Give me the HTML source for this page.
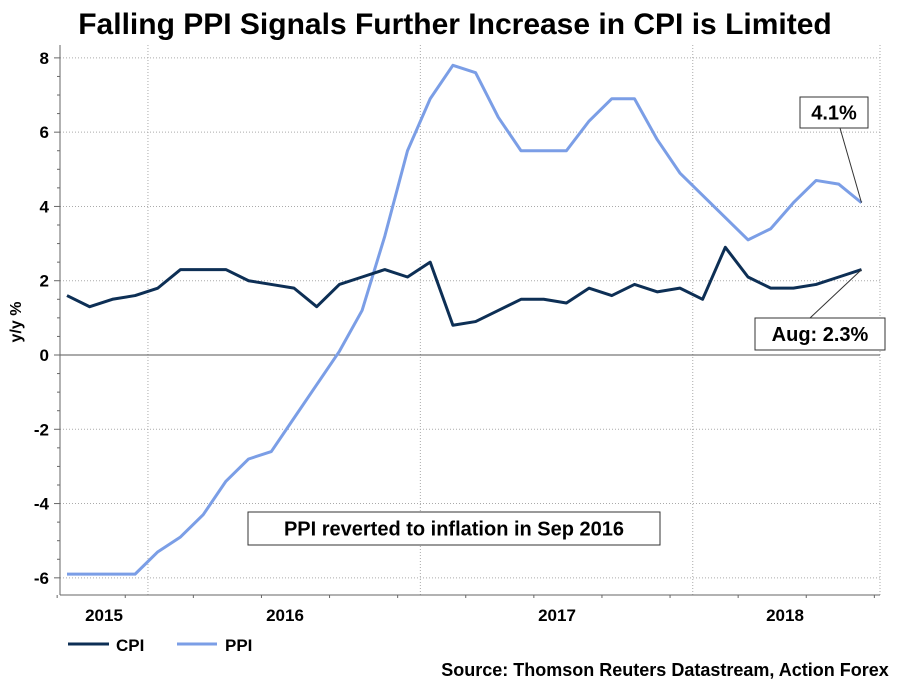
<!DOCTYPE html>
<html><head><meta charset="utf-8">
<style>
html,body{margin:0;padding:0;background:#fff;}
body{width:909px;height:682px;overflow:hidden;font-family:"Liberation Sans",Arial,sans-serif;}
svg text{font-family:"Liberation Sans",Arial,sans-serif;font-weight:bold;}
</style></head>
<body>
<svg id="chart" width="909" height="682" viewBox="0 0 909 682">
<text x="455" y="34" text-anchor="middle" font-size="30" fill="#000">Falling PPI Signals Further Increase in CPI is Limited</text>
<g id="grid"></g>
<g id="axes"></g>
<g id="series"></g>
<g id="ann"></g>
<text x="665" y="676" text-anchor="middle" font-size="18" fill="#000">Source: Thomson Reuters Datastream, Action Forex</text>
</svg>
<script>
const months = 36; // Sep 2015 .. Aug 2018
const cpi = [1.6,1.3,1.5,1.6,1.8,2.3,2.3,2.3,2.0,1.9,1.8,1.3,1.9,2.1,2.3,2.1,2.5,0.8,0.9,1.2,1.5,1.5,1.4,1.8,1.6,1.9,1.7,1.8,1.5,2.9,2.1,1.8,1.8,1.9,2.1,2.3];
const ppi = [-5.9,-5.9,-5.9,-5.9,-5.3,-4.9,-4.3,-3.4,-2.8,-2.6,-1.7,-0.8,0.1,1.2,3.2,5.5,6.9,7.8,7.6,6.4,5.5,5.5,5.5,6.3,6.9,6.9,5.8,4.9,4.3,3.7,3.1,3.4,4.1,4.7,4.6,4.1];
const yTicks = [8,6,4,2,0,-2,-4,-6];
const years = ["2015","2016","2017","2018"];
const NS="http://www.w3.org/2000/svg";
const L=60,R=880,T=45,B=595;
const x0=67,dx=22.7;
function X(i){return x0+i*dx;}
function Y(v){return 355-v*37.14;}
function mk(tag,attrs,parent){const e=document.createElementNS(NS,tag);for(const k in attrs)e.setAttribute(k,attrs[k]);parent.appendChild(e);return e;}
const grid=document.getElementById('grid'),axes=document.getElementById('axes'),series=document.getElementById('series'),ann=document.getElementById('ann');
const yb=[4,16,28];
yb.forEach(i=>{const xv=X(i-0.5)+1.5;
 const g=mk('line',{x1:xv,x2:xv,y1:T,y2:B,stroke:'#aaa','stroke-dasharray':'1,2'},grid);
 
 
});
mk('line',{x1:R,x2:R,y1:T,y2:B,stroke:'#aaa','stroke-dasharray':'1,2'},grid);
yTicks.forEach(v=>{
 if(v!==0){const g=mk('line',{x1:L,x2:R,y1:Y(v),y2:Y(v),stroke:'#aaa','stroke-dasharray':'1,2'},grid);
 
 }
 const t=mk('text',{x:L-11,y:Y(v)+6,'text-anchor':'end','font-size':'17',fill:'#000'},axes);
 t.textContent=v;
 
 
});
for(let v=-6;v<=8;v+=0.5){mk('line',{x1:L-(v%2===0?6:3),x2:L,y1:Y(v),y2:Y(v),stroke:'#666'},axes);}
const z=mk('line',{x1:L,x2:R,y1:Y(0),y2:Y(0),stroke:'#555','stroke-width':1},axes);


mk('line',{x1:L,x2:L,y1:T,y2:B,stroke:'#666'},axes);
mk('line',{x1:L,x2:R,y1:B,y2:B,stroke:'#666'},axes);
for(let i=-0.5;i<months;i+=3){const yr=((i+0.5+8)%12)===0;mk('line',{x1:X(i)+1.5,x2:X(i)+1.5,y1:B,y2:B+(yr?6:3),stroke:'#666'},axes);}
const yc=[104,285,557,785];
years.forEach((y,k)=>{const t=mk('text',{x:yc[k],y:621,'text-anchor':'middle','font-size':'17',fill:'#000'},axes);
 t.textContent=y;
 
 });
const yl=mk('text',{x:0,y:0,'text-anchor':'middle','font-size':'16',fill:'#000',transform:'translate(21,322) rotate(-90)'},axes);
yl.textContent='y/y %';


function line(data,color,name){const p=mk('polyline',{points:data.map((v,i)=>X(i)+','+Y(v)).join(' '),fill:'none',stroke:color,'stroke-width':3,'stroke-linejoin':'round'},series);
 
 }
line(ppi,'#7b9ee6','ppi-line');
line(cpi,'#0d2f55','cpi-line');
mk('line',{x1:68,x2:109,y1:644,y2:644,stroke:'#0d2f55','stroke-width':3},ann);
let t=mk('text',{x:116,y:651,'font-size':'17',fill:'#000'},ann);t.textContent='CPI';


mk('line',{x1:177,x2:217,y1:644,y2:644,stroke:'#7b9ee6','stroke-width':3},ann);
t=mk('text',{x:225,y:651,'font-size':'17',fill:'#000'},ann);t.textContent='PPI';


function box(x,y,w,h,txt,name){mk('rect',{x:x,y:y,width:w,height:h,fill:'#fff',stroke:'#333'},ann);
 const tt=mk('text',{x:x+w/2,y:y+h/2+7,'text-anchor':'middle','font-size':'20',fill:'#000'},ann);tt.textContent=txt;
 
 }
mk('line',{x1:840,y1:128,x2:X(35),y2:Y(ppi[35]),stroke:'#333'},ann);
box(800,97,68,31,'4.1%','ppi-last-label');
mk('line',{x1:810,y1:318,x2:X(35),y2:Y(cpi[35]),stroke:'#333'},ann);
box(755,318,130,32,'Aug: 2.3%','cpi-last-label');
box(248,512,412,33,'PPI reverted to inflation in Sep 2016','ppi-annotation');
</script>
</body></html>
